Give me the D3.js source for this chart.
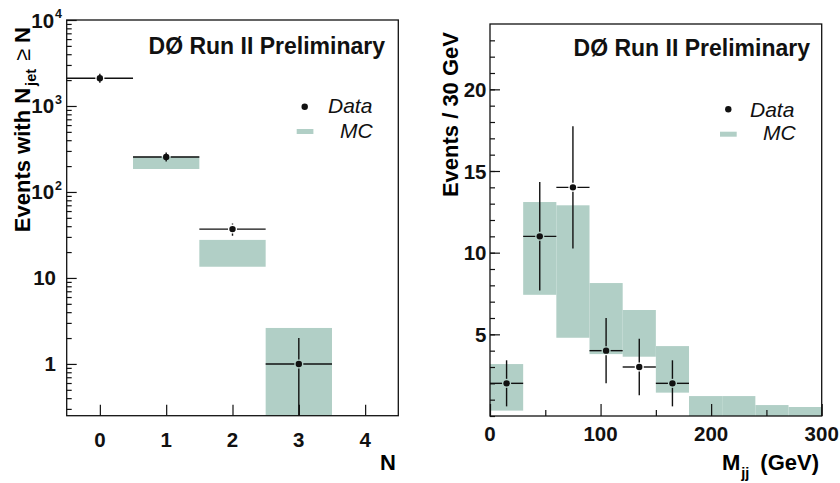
<!DOCTYPE html>
<html>
<head>
<meta charset="utf-8">
<script src="https://cdn.jsdelivr.net/npm/d3@7"></script>
<style>
  body { margin: 0; background: #fff; }
  svg { display: block; font-family: "Liberation Sans", Arial, sans-serif; }
</style>
</head>
<body>
<div id="vis"></div>
<script>
var width = 840,
    height = 483;

// left panel: events with N_jet >= N
var njetN = [0, 1, 2, 3];
var njetData = [2100, 255, 37, 1];
var njetErr = [46, 16, 6, 1];
var njetMcN = [1, 2, 3];
var njetMcLo = [185, 13.5, 0.1];
var njetMcHi = [258, 27.7, 2.62];
var njetTicks = [0, 1, 2, 3, 4];

// right panel: dijet mass, 30 GeV bins
var mjjCenter = [15, 45, 75, 105, 135, 165];
var mjjData = [2, 11, 14, 4, 3, 2];
var mjjErr = [1.41, 3.32, 3.74, 2, 1.73, 1.41];
var mjjBinLo = [0, 30, 60, 90, 120, 150, 180, 210, 240, 270];
var mjjMcLo = [0.33, 7.42, 4.79, 3.79, 3.63, 1.43, 0, 0, 0, 0];
var mjjMcHi = [3.18, 13.1, 12.9, 8.14, 6.49, 4.28, 1.22, 1.22, 0.67, 0.55];
var mjjTicks = [0, 100, 200, 300];
var mjjYTicks = [5, 10, 15, 20];

var mcColor = "#b1cfc6",
    ink = "#111",
    tickFont = 20.5,
    titleFont = 22;

var svg = d3.select("#vis").append("svg")
    .attr("width", width)
    .attr("height", height);

// ---------- left panel ----------
var L = {x0: 66.7, x1: 398.3, y0: 20, y1: 415.7};

var xL = d3.scaleLinear().domain([-0.5, 4.5]).range([L.x0, L.x1]);
var yL = d3.scaleLog().domain([0.25, 1e4]).range([L.y1, L.y0]);

svg.append("clipPath").attr("id", "clipL")
  .append("rect")
    .attr("x", L.x0).attr("y", L.y0)
    .attr("width", L.x1 - L.x0).attr("height", L.y1 - L.y0);

var gL = svg.append("g").attr("clip-path", "url(#clipL)");

gL.selectAll("rect.mc")
    .data(njetMcN)
  .enter().append("rect")
    .attr("class", "mc")
    .attr("x", function(d) { return xL(d - 0.5); })
    .attr("width", function(d) { return xL(d + 0.5) - xL(d - 0.5); })
    .attr("y", function(d, i) { return yL(njetMcHi[i]); })
    .attr("height", function(d, i) { return yL(Math.max(njetMcLo[i], 0.2)) - yL(njetMcHi[i]); })
    .attr("fill", mcColor);

drawPoints(gL, njetN.map(function(n, i) {
  var lo = njetData[i] - njetErr[i];
  return {
    cx: xL(n), cy: yL(njetData[i]),
    xa: xL(n - 0.5), xb: xL(n + 0.5),
    ya: yL(njetData[i] + njetErr[i]),
    yb: lo > 0 ? yL(lo) : L.y1 + 5
  };
}));

var minorLog = [];
[0.1, 1, 10, 100, 1000].forEach(function(dec) {
  for (var k = 2; k <= 9; k++) {
    var v = dec * k;
    if (v >= 0.25 && v < 1e4) minorLog.push(v);
  }
});

svg.append("g")
    .attr("transform", "translate(" + L.x0 + ",0)")
    .call(d3.axisLeft(yL).tickValues(minorLog).tickSize(-5).tickFormat(""))
    .call(cleanAxis);

svg.append("g")
    .attr("transform", "translate(" + L.x0 + ",0)")
    .call(d3.axisLeft(yL).tickValues([1, 10, 100, 1000, 10000]).tickSize(-10).tickFormat(""))
    .call(cleanAxis);

svg.append("g")
    .attr("transform", "translate(0," + L.y1 + ")")
    .call(d3.axisBottom(xL).tickValues(njetTicks).tickSize(-11).tickFormat(""))
    .call(cleanAxis);

frame(L);

// y tick labels with exponents
[1, 10, 100, 1000, 10000].forEach(function(v) {
  var e = Math.round(Math.log10(v));
  var t = svg.append("text")
      .attr("y", yL(v) + 7.5)
      .attr("text-anchor", "end")
      .attr("font-size", tickFont)
      .attr("font-weight", "bold")
      .attr("fill", ink);
  if (e < 2) {
    t.attr("x", 56).text(String(v));
  } else {
    t.attr("x", 62).text("10");
    t.append("tspan").attr("font-size", 12.5).attr("dy", -9.5).attr("dx", 1).text(String(e));
  }
});

svg.selectAll("text.xl")
    .data(njetTicks)
  .enter().append("text")
    .attr("x", function(d) { return xL(d); })
    .attr("y", 446.5)
    .attr("text-anchor", "middle")
    .attr("font-size", tickFont)
    .attr("font-weight", "bold")
    .attr("fill", ink)
    .text(function(d) { return d; });

svg.append("text")
    .attr("x", 396).attr("y", 470)
    .attr("text-anchor", "end")
    .attr("font-size", titleFont)
    .attr("font-weight", "bold")
    .text("N");

var ylab = svg.append("text")
    .attr("transform", "translate(30,27)rotate(-90)")
    .attr("text-anchor", "end")
    .attr("font-size", titleFont)
    .attr("font-weight", "bold")
    .text("Events with N");
ylab.append("tspan").attr("font-size", 14.5).attr("dy", 6).attr("dx", 2).text("jet");
ylab.append("tspan").attr("dy", -6).attr("font-weight", "normal").attr("dx", 8).text("≥");
ylab.append("tspan").attr("dx", 6).text("N");

title(385, 54);
legend(304.7, 106.7, 328, 113, 296.7, 129, 340, 138);

// ---------- right panel ----------
var R = {x0: 490, x1: 821.7, y0: 24, y1: 416};

var xR = d3.scaleLinear().domain([0, 300]).range([R.x0, R.x1]);
var yR = d3.scaleLinear().domain([0, 24]).range([R.y1, R.y0]);

svg.append("clipPath").attr("id", "clipR")
  .append("rect")
    .attr("x", R.x0).attr("y", R.y0)
    .attr("width", R.x1 - R.x0).attr("height", R.y1 - R.y0);

var gR = svg.append("g").attr("clip-path", "url(#clipR)");

gR.selectAll("rect.mc")
    .data(mjjBinLo)
  .enter().append("rect")
    .attr("class", "mc")
    .attr("x", function(d) { return xR(d); })
    .attr("width", function(d) { return xR(d + 30) - xR(d); })
    .attr("y", function(d, i) { return yR(mjjMcHi[i]); })
    .attr("height", function(d, i) { return yR(mjjMcLo[i]) - yR(mjjMcHi[i]); })
    .attr("fill", mcColor);

drawPoints(gR, mjjCenter.map(function(m, i) {
  return {
    cx: xR(m), cy: yR(mjjData[i]),
    xa: xR(m - 15), xb: xR(m + 15),
    ya: yR(mjjData[i] + mjjErr[i]),
    yb: yR(mjjData[i] - mjjErr[i])
  };
}));

svg.append("g")
    .attr("transform", "translate(" + R.x0 + ",0)")
    .call(d3.axisLeft(yR).tickValues(d3.range(0, 24)).tickSize(-5).tickFormat(""))
    .call(cleanAxis);

svg.append("g")
    .attr("transform", "translate(" + R.x0 + ",0)")
    .call(d3.axisLeft(yR).tickValues(mjjYTicks).tickSize(-10).tickFormat(""))
    .call(cleanAxis);

svg.append("g")
    .attr("transform", "translate(0," + R.y1 + ")")
    .call(d3.axisBottom(xR).tickValues([50, 150, 250]).tickSize(-6).tickFormat(""))
    .call(cleanAxis);

svg.append("g")
    .attr("transform", "translate(0," + R.y1 + ")")
    .call(d3.axisBottom(xR).tickValues(mjjTicks).tickSize(-12).tickFormat(""))
    .call(cleanAxis);

frame(R);

svg.selectAll("text.yr")
    .data(mjjYTicks)
  .enter().append("text")
    .attr("x", 486.5)
    .attr("y", function(d) { return yR(d) + 7.5; })
    .attr("text-anchor", "end")
    .attr("font-size", tickFont)
    .attr("font-weight", "bold")
    .attr("fill", ink)
    .text(function(d) { return d; });

svg.selectAll("text.xr")
    .data(mjjTicks)
  .enter().append("text")
    .attr("x", function(d) { return xR(d); })
    .attr("y", 440.5)
    .attr("text-anchor", "middle")
    .attr("font-size", tickFont)
    .attr("font-weight", "bold")
    .attr("fill", ink)
    .text(function(d) { return d; });

var xlab = svg.append("text")
    .attr("x", 819).attr("y", 470)
    .attr("text-anchor", "end")
    .attr("font-size", titleFont)
    .attr("font-weight", "bold")
    .text("M");
xlab.append("tspan").attr("font-size", 14.5).attr("dy", 8).attr("dx", 1).text("jj");
xlab.append("tspan").attr("dy", -8).attr("dx", 11).text("(GeV)");

svg.append("text")
    .attr("transform", "translate(458,32)rotate(-90)")
    .attr("text-anchor", "end")
    .attr("font-size", titleFont)
    .attr("font-weight", "bold")
    .text("Events / 30 GeV");

title(810, 56);
legend(728.3, 109.3, 750, 116.5, 720, 131.7, 763, 140);

// ---------- helpers ----------
function drawPoints(g, pts) {
  var gap = 4.5;
  var p = g.selectAll("g.pt").data(pts).enter().append("g")
      .attr("stroke", ink)
      .attr("stroke-width", 1.4);
  p.append("line")
      .attr("x1", function(d) { return d.xa; }).attr("x2", function(d) { return d.cx - gap; })
      .attr("y1", function(d) { return d.cy; }).attr("y2", function(d) { return d.cy; });
  p.append("line")
      .attr("x1", function(d) { return d.cx + gap; }).attr("x2", function(d) { return d.xb; })
      .attr("y1", function(d) { return d.cy; }).attr("y2", function(d) { return d.cy; });
  p.append("line")
      .attr("x1", function(d) { return d.cx; }).attr("x2", function(d) { return d.cx; })
      .attr("y1", function(d) { return d.ya; }).attr("y2", function(d) { return Math.min(d.cy - gap, Math.max(d.ya, d.cy - gap)); });
  p.append("line")
      .attr("x1", function(d) { return d.cx; }).attr("x2", function(d) { return d.cx; })
      .attr("y1", function(d) { return Math.max(d.cy + gap, Math.min(d.yb, d.cy + gap)); }).attr("y2", function(d) { return d.yb; });
  p.append("circle")
      .attr("cx", function(d) { return d.cx; })
      .attr("cy", function(d) { return d.cy; })
      .attr("r", 3.2)
      .attr("stroke", "none")
      .attr("fill", ink);
}

function cleanAxis(g) {
  g.select(".domain").remove();
  g.selectAll(".tick line").attr("stroke", ink).attr("stroke-width", 1.2);
}

function frame(b) {
  svg.append("rect")
      .attr("x", b.x0).attr("y", b.y0)
      .attr("width", b.x1 - b.x0).attr("height", b.y1 - b.y0)
      .attr("fill", "none")
      .attr("stroke", ink)
      .attr("stroke-width", 1.3);
}

function title(x, y) {
  svg.append("text")
      .attr("x", x).attr("y", y)
      .attr("text-anchor", "end")
      .attr("font-size", 23)
      .attr("font-weight", "bold")
      .attr("fill", ink)
      .text("DØ Run II Preliminary");
}

function legend(dx, dy, tx, ty, rx, ry, mx, my) {
  svg.append("circle").attr("cx", dx).attr("cy", dy).attr("r", 3.2).attr("fill", ink);
  svg.append("text")
      .attr("x", tx).attr("y", ty)
      .attr("font-size", 21)
      .attr("font-style", "italic")
      .attr("fill", ink)
      .text("Data");
  svg.append("rect")
      .attr("x", rx).attr("y", ry)
      .attr("width", 16.7).attr("height", 5)
      .attr("fill", mcColor);
  svg.append("text")
      .attr("x", mx).attr("y", my)
      .attr("font-size", 21)
      .attr("font-style", "italic")
      .attr("fill", ink)
      .text("MC");
}
</script>
</body>
</html>
